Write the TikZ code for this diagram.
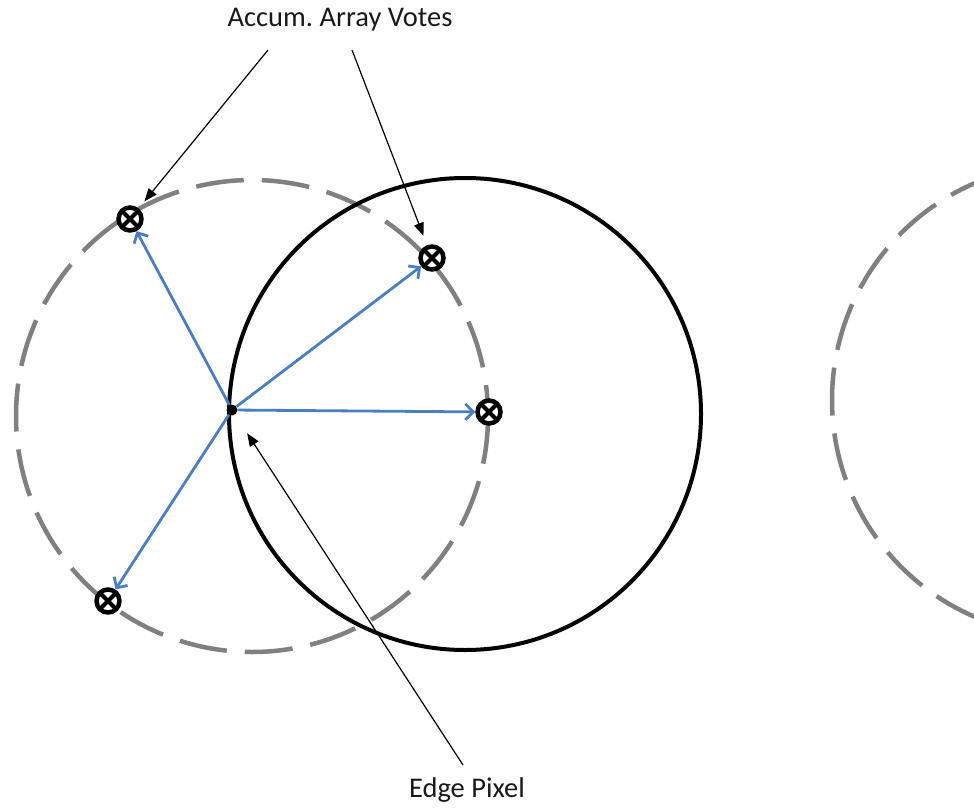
\documentclass[tikz,border=0pt]{standalone}
\usepackage{fontspec}
\setmainfont{Carlito}
\usetikzlibrary{arrows.meta}
\definecolor{dgray}{RGB}{128,128,128}
\definecolor{vblue}{RGB}{74,126,193}
\begin{document}
\begin{tikzpicture}[x=1pt,y=-1pt,
  dashcircle/.style={draw=dgray, line width=4.5pt, dash pattern=on 48pt off 18pt},
  solidcircle/.style={draw=black, line width=4pt},
  vote/.style={circle, draw=black, fill=white, line width=4.5pt, minimum size=23pt, inner sep=0pt,
    path picture={\draw[line width=4pt] (path picture bounding box.north west) -- (path picture bounding box.south east)
      (path picture bounding box.north east) -- (path picture bounding box.south west);}},
  vecarrow/.style={draw=vblue, line width=2.8pt, -{Straight Barb[length=8pt,width=16pt]}},
  note/.style={draw=black, line width=1.2pt, -{Triangle[length=13pt,width=10pt]}},
  lbl/.style={font=\fontsize{28.5}{34}\selectfont, text=black!90}]
\useasboundingbox (0,0) rectangle (974,810);
\clip (0,0) rectangle (974,810);
% circles
\draw[dashcircle] (252,416) circle (236);
\draw[solidcircle] (465,414) circle (236);
\draw[dashcircle] (1068,400) circle (236);
% edge pixel
\node[circle, fill=black, inner sep=0pt, minimum size=11pt] (ep) at (232,410) {};
% votes
\node[vote] (v1) at (130,219) {};
\node[vote] (v2) at (432,258) {};
\node[vote] (v3) at (489,412) {};
\node[vote] (v4) at (108,601) {};
% vectors
\draw[vecarrow] (ep) -- (v1);
\draw[vecarrow] (ep) -- (v2);
\draw[vecarrow] (ep) -- (v3);
\draw[vecarrow] (ep) -- (v4);
% labels
\node[lbl] (acc) at (340,20) {Accum.\ Array Votes};
\node[lbl] (edge) at (467,790) {Edge Pixel};
\coordinate (a1) at (268,50);
\coordinate (a2) at (352,50);
\coordinate (e1) at (463,765);
\draw[note, shorten >=9pt] (a1) -- (v1);
\draw[note, shorten >=10pt] (a2) -- (v2);
\draw[note, shorten >=22pt] (e1) -- (ep);
\end{tikzpicture}
\end{document}
